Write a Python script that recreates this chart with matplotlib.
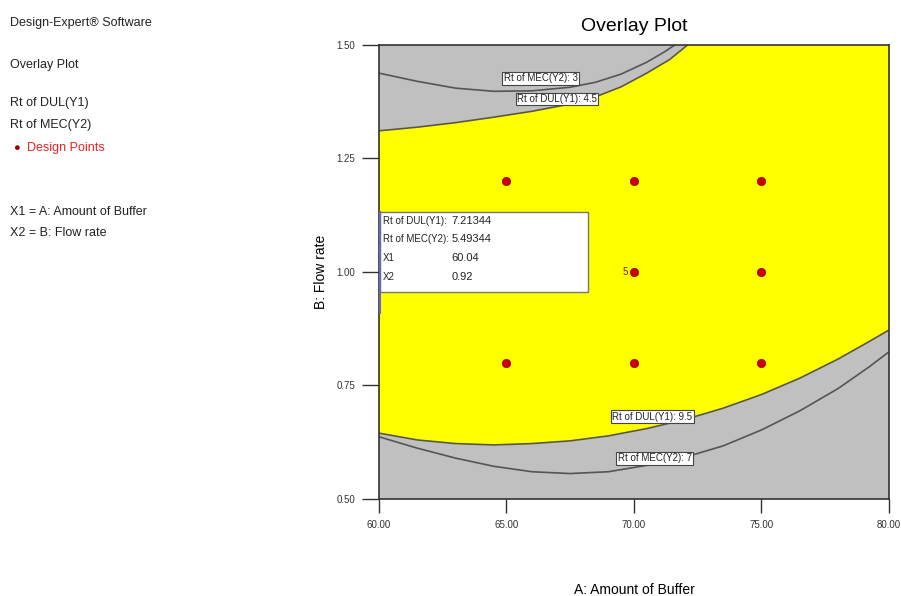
import matplotlib.pyplot as plt

plt.rcParams['font.family'] = ['Liberation Sans Narrow', 'Liberation Sans', 'DejaVu Sans']

# contour lines (A: amount of buffer, B: flow rate)
dul45_x = [60.0, 61.5, 63.0, 64.5, 66.0, 67.5, 68.5, 69.5, 70.5, 71.4, 72.1]
dul45_y = [1.311, 1.319, 1.329, 1.341, 1.354, 1.370, 1.386, 1.408, 1.438, 1.468, 1.500]

mec3_x = [60.0, 61.5, 63.0, 64.5, 66.0, 67.5, 68.5, 69.5, 70.5, 71.2, 71.6]
mec3_y = [1.438, 1.420, 1.405, 1.398, 1.399, 1.407, 1.418, 1.436, 1.462, 1.485, 1.500]

dul95_x = [60.0, 61.5, 63.0, 64.5, 66.0, 67.5, 69.0, 70.5, 72.0, 73.5, 75.0, 76.5, 78.0, 79.2, 80.0]
dul95_y = [0.645, 0.630, 0.622, 0.619, 0.622, 0.628, 0.639, 0.655, 0.675, 0.700, 0.730, 0.766, 0.808, 0.846, 0.872]

mec7_x = [60.0, 61.5, 63.0, 64.5, 66.0, 67.5, 69.0, 70.5, 72.0, 73.5, 75.0, 76.5, 78.0, 79.2, 80.0]
mec7_y = [0.637, 0.612, 0.590, 0.572, 0.560, 0.556, 0.560, 0.574, 0.592, 0.617, 0.652, 0.694, 0.743, 0.790, 0.824]

# design points
pts_x = [65, 70, 75, 65, 70, 75, 70, 75]
pts_y = [0.8, 0.8, 0.8, 1.2, 1.2, 1.2, 1.0, 1.0]

info_names = ['Rt of DUL(Y1):', 'Rt of MEC(Y2):', 'X1', 'X2']
info_vals = ['7.21344', '5.49344', '60.04', '0.92']

fig = plt.figure(figsize=(9.01, 5.96), dpi=100)
ax = fig.add_axes([0.4206, 0.1628, 0.566, 0.7617])
ax.set_xlim(60, 80)
ax.set_ylim(0.5, 1.5)
ax.set_facecolor('#c0c0c0')

# feasible (yellow) region between DUL 4.5 and DUL 9.5
fx = dul95_x + [80.0, dul45_x[-1]] + dul45_x[::-1]
fy = dul95_y + [1.5, 1.5] + dul45_y[::-1]
ax.fill(fx, fy, color='#ffff00', zorder=1)

lc = '#555555'
ax.plot(dul45_x, dul45_y, color=lc, lw=1.2, zorder=2)
ax.plot(mec3_x, mec3_y, color=lc, lw=1.2, zorder=2)
ax.plot(dul95_x, dul95_y, color=lc, lw=1.2, zorder=2)
ax.plot(mec7_x, mec7_y, color=lc, lw=1.2, zorder=2)

box = dict(boxstyle='square,pad=0.15', fc='white', ec='#444444', lw=0.8)
for txt, x, y in [('Rt of MEC(Y2): 3', 66.35, 1.427), ('Rt of DUL(Y1): 4.5', 66.98, 1.381),
                  ('Rt of DUL(Y1): 9.5', 70.71, 0.681), ('Rt of MEC(Y2): 7', 70.82, 0.590)]:
    ax.text(x, y, txt, fontsize=7, ha='center', va='center', bbox=box, zorder=4, color='#222222')

ax.plot(pts_x, pts_y, 'o', color='#cc0000', ms=6, mec='#990000', mew=0.5, zorder=5)
ax.text(69.75, 1.0, '5', fontsize=7, color='#8b1a00', ha='right', va='center', zorder=5)

# info box
ax.add_patch(plt.Rectangle((60.04, 0.956), 8.16, 0.176, fc='white', ec='#777777', lw=1, zorder=6))
ax.plot([60.04, 60.04], [0.91, 1.132], color='#6a6ab0', lw=1.5, zorder=7)
for i, (n, v) in enumerate(zip(info_names, info_vals)):
    yy = 1.113 - i * 0.041
    ax.text(60.15, yy, n, fontsize=7, va='center', zorder=7, color='#222222')
    ax.text(62.85, yy, v, fontsize=8, va='center', zorder=7, color='#222222')

for s in ax.spines.values():
    s.set_color('#333333')
    s.set_linewidth(1.2)
ax.set_xticks([60, 65, 70, 75, 80])
ax.set_xticklabels(['60.00', '65.00', '70.00', '75.00', '80.00'])
ax.set_yticks([0.5, 0.75, 1.0, 1.25, 1.5])
ax.set_yticklabels(['0.50', '0.75', '1.00', '1.25', '1.50'])
ax.tick_params(direction='out', width=1, colors='#333333', labelsize=7)
ax.tick_params(axis='y', length=12, pad=5)
ax.tick_params(axis='x', length=10, pad=5)

ax.set_title('Overlay Plot', fontsize=14, pad=10)
ax.set_xlabel('A: Amount of Buffer', fontsize=10, labelpad=38)
ax.set_ylabel('B: Flow rate', fontsize=10, labelpad=6)

# side legend text
fig.text(0.011, 0.962, 'Design-Expert\u00ae Software', fontsize=9, color='#222222', va='center')
fig.text(0.011, 0.891, 'Overlay Plot', fontsize=9, color='#222222', va='center')
fig.text(0.011, 0.827, 'Rt of DUL(Y1)', fontsize=9, color='#222222', va='center')
fig.text(0.011, 0.790, 'Rt of MEC(Y2)', fontsize=9, color='#222222', va='center')
fig.text(0.015, 0.751, '\u25cf', fontsize=8, color='#990000', va='center')
fig.text(0.030, 0.751, 'Design Points', fontsize=9, color='#ee2222', va='center')
fig.text(0.011, 0.644, 'X1 = A: Amount of Buffer', fontsize=9, color='#222222', va='center')
fig.text(0.011, 0.609, 'X2 = B: Flow rate', fontsize=9, color='#222222', va='center')

fig.savefig('out.png', dpi=100)
